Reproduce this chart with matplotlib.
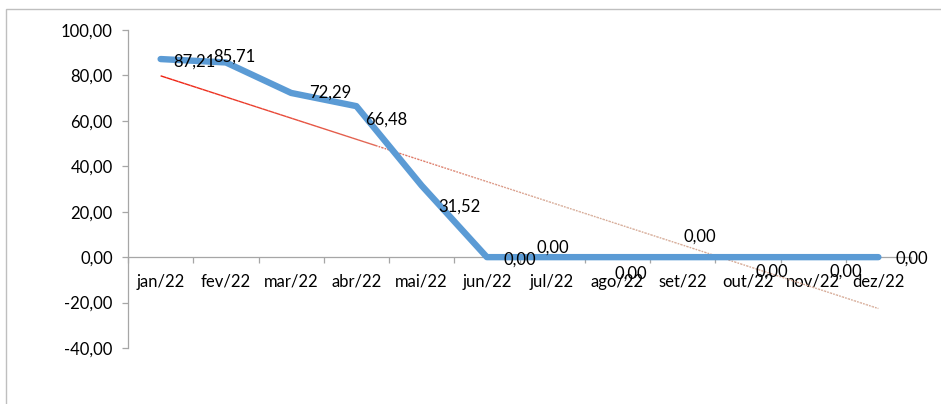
import numpy as np
import matplotlib
matplotlib.use("Agg")
import matplotlib.pyplot as plt
from matplotlib.collections import LineCollection
from matplotlib.patches import Rectangle
from matplotlib.colors import to_rgb

categories = ["jan/22", "fev/22", "mar/22", "abr/22", "mai/22", "jun/22",
              "jul/22", "ago/22", "set/22", "out/22", "nov/22", "dez/22"]
values = [87.21, 85.71, 72.29, 66.48, 31.52, 0.00, 0.00, 0.00, 0.00, 0.00, 0.00, 0.00]
y_ticks = [-40, -20, 0, 20, 40, 60, 80, 100]

# label offsets in pixels (dx, dy downward) mimicking the reference placement
label_offsets = [(34, 3), (9, -6), (39, 0), (30, 13), (38, 21), (33, 2),
                 (1, -10), (13, 16), (17, -21), (24, 14), (33, 14), (33, 1)]

plt.rcParams['font.family'] = ['Lato', 'DejaVu Sans']

W, H = 941, 404
dpi = 100
FS = 12
fig = plt.figure(figsize=(W / dpi, H / dpi), dpi=dpi)

left_px, right_px, top_px, bot_px = 128, 911, 30, 348
ax = fig.add_axes([left_px / W, 1 - bot_px / H, (right_px - left_px) / W, (bot_px - top_px) / H])

x = np.arange(len(categories))
ax.set_xlim(-0.5, len(categories) - 0.5)
ax.set_ylim(-40, 100)

# trendline (linear)
slope, intercept = np.polyfit(x + 1, values, 1)
n = 120
xs = np.linspace(0, len(categories) - 1, n + 1)
ys = slope * (xs + 1) + intercept
segs = [[(xs[i], ys[i]), (xs[i + 1], ys[i + 1])] for i in range(n)]
c0 = np.array(to_rgb("#F02010"))
c1 = np.array(to_rgb("#D6AA96"))
cols, styles = [], []
for i in range(n):
    t = i / (n - 1)
    tt = min(1.0, t / 0.55)
    cols.append(tuple(c0 * (1 - tt) + c1 * tt))
    styles.append('solid' if t < 0.3 else (0, (1.2, 0.8)))
lc = LineCollection(segs, colors=cols, linewidths=1.0, linestyles=styles, zorder=2)
ax.add_collection(lc)

ax.plot(x, values, color="#5B9BD5", lw=4.6, solid_capstyle='round',
        solid_joinstyle='round', zorder=3)

for xi, v, (dx, dy) in zip(x, values, label_offsets):
    ax.annotate(f"{v:.2f}".replace(".", ","), (xi, v), xytext=(dx * 72 / dpi, -dy * 72 / dpi),
                textcoords='offset points', ha='center', va='center', fontsize=FS,
                color='black', zorder=5)

ax.spines['top'].set_visible(False)
ax.spines['right'].set_visible(False)
ax.spines['bottom'].set_position(('data', 0))
for s in ['left', 'bottom']:
    ax.spines[s].set_color('#A6A6A6')
    ax.spines[s].set_linewidth(0.9)
ax.spines['bottom'].set_zorder(1)

ax.set_yticks(y_ticks)
ax.set_yticklabels([f"{v:.2f}".replace(".", ",") for v in y_ticks], fontsize=FS)
ax.tick_params(axis='y', length=4, color='#A6A6A6', pad=7, width=0.9)

ax.set_xticks(np.arange(-0.5, len(categories), 1.0))
ax.set_xticklabels([])
ax.set_xticks(x, minor=True)
ax.set_xticklabels(categories, minor=True, fontsize=FS)
ax.tick_params(axis='x', which='major', length=4, color='#A6A6A6', width=0.9)
ax.tick_params(axis='x', which='minor', length=0, pad=12)

ax.patch.set_alpha(0)

# chart border
fig.patches.append(Rectangle((6 / W, -0.1), 1.2, 1.1 - 9 / H, transform=fig.transFigure,
                             fill=False, edgecolor='#BFBFBF', linewidth=1.0))

fig.savefig("out.png", dpi=dpi)
